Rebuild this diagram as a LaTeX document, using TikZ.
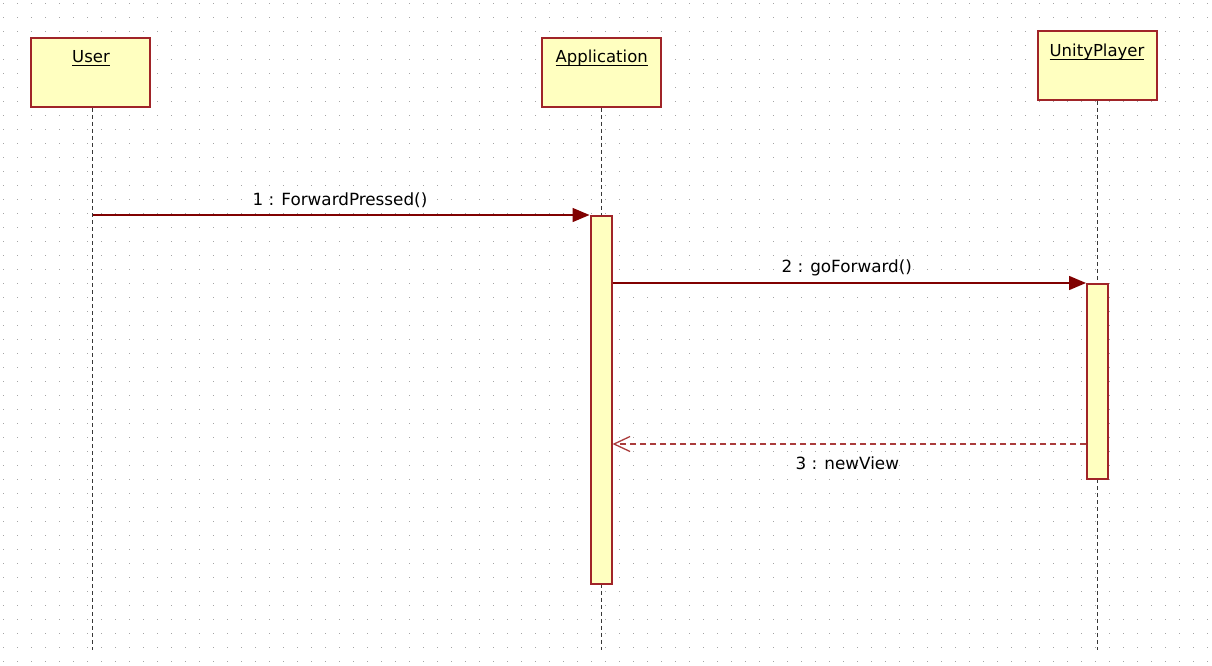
\documentclass[tikz,border=0pt]{standalone}
\usepackage{fontspec}
\setmainfont{DejaVu Sans}
\usetikzlibrary{arrows.meta}
\definecolor{boxfill}{RGB}{255,255,192}
\definecolor{boxline}{RGB}{160,36,40}
\definecolor{msgc}{RGB}{128,0,0}
\definecolor{retc}{RGB}{170,60,60}
\definecolor{dotc}{RGB}{165,165,165}
\definecolor{lifec}{RGB}{55,55,55}
\newcommand\myuline[1]{\setbox0\hbox{#1}\rlap{\rule[-3.5pt]{\wd0}{1.4pt}}\box0}
\begin{document}
\begin{tikzpicture}[x=1pt,y=-1pt,
 objbox/.style={draw=boxline,fill=boxfill,line width=2pt,minimum width=119pt,minimum height=69pt,inner sep=0pt},
 objlabel/.style={anchor=base,inner sep=0pt,font=\fontsize{16.5}{19}\selectfont,text=black},
 actbar/.style={draw=boxline,fill=boxfill,line width=2pt,minimum width=21pt,inner sep=0pt},
 lifeline/.style={draw=lifec,line width=1.9pt,dash pattern=on 4pt off 3pt},
 msg/.style={draw=msgc,line width=1.5pt,-{Triangle[length=17pt,width=14pt]}},
 ret/.style={draw=retc,line width=1.5pt,dash pattern=on 6pt off 4pt,-{Straight Barb[length=16pt,width=15pt,line width=1.3pt]}},
 msglabel/.style={anchor=base,inner sep=0pt,font=\fontsize{16.8}{19}\selectfont,text=black}]
\useasboundingbox (0,0) rectangle (1212,666);
\fill[white] (0,0) rectangle (1212,666);
% grid dots
\foreach \i in {0,...,86}{
  \foreach \j in {0,...,47}{
    \fill[dotc] (2.6+14*\i,2.6+14*\j) rectangle +(1.7,1.7);
  }
}
% object boxes
\node[objbox] (user) at (90.5,72.5) {};
\node[objlabel] (userlbl) at (91,62.5) {\myuline{User}};
\node[objbox] (app) at (601.2,72.3) {};
\node[objlabel] (applbl) at (601.7,62.7) {\myuline{Application}};
\node[objbox] (unity) at (1097.3,65.5) {};
\node[objlabel] (unitylbl) at (1097,56.5) {\myuline{UnityPlayer}};
% lifelines
\coordinate (userend) at (92.5,650);
\coordinate (append) at (601.5,650);
\coordinate (unityend) at (1097.5,650);
\draw[lifeline] (user.south -| userend) -- (userend);
\draw[lifeline] (app.south -| append) -- (append);
\draw[lifeline] (unity.south -| unityend) -- (unityend);
% activation bars
\node[actbar,minimum height=368pt,anchor=north] (barA) at (601,215) {};
\node[actbar,minimum height=195pt,anchor=north] (barU) at (1097.5,283) {};
% messages
\coordinate (m1s) at (92.5,215);
\coordinate (y3) at (0,444);
\draw[msg] (m1s) -- (barA.north west);
\draw[msg] (barA.east |- barU.north) -- (barU.north west);
\draw[ret] (barU.west |- y3) -- (barA.east |- y3);
% labels
\node[msglabel] (l1) at (340,205) {1 : ForwardPressed()};
\node[msglabel] (l2) at (846.7,272.3) {2 : goForward()};
\node[msglabel] (l3) at (847.3,469.3) {3 : newView};
\end{tikzpicture}
\end{document}
